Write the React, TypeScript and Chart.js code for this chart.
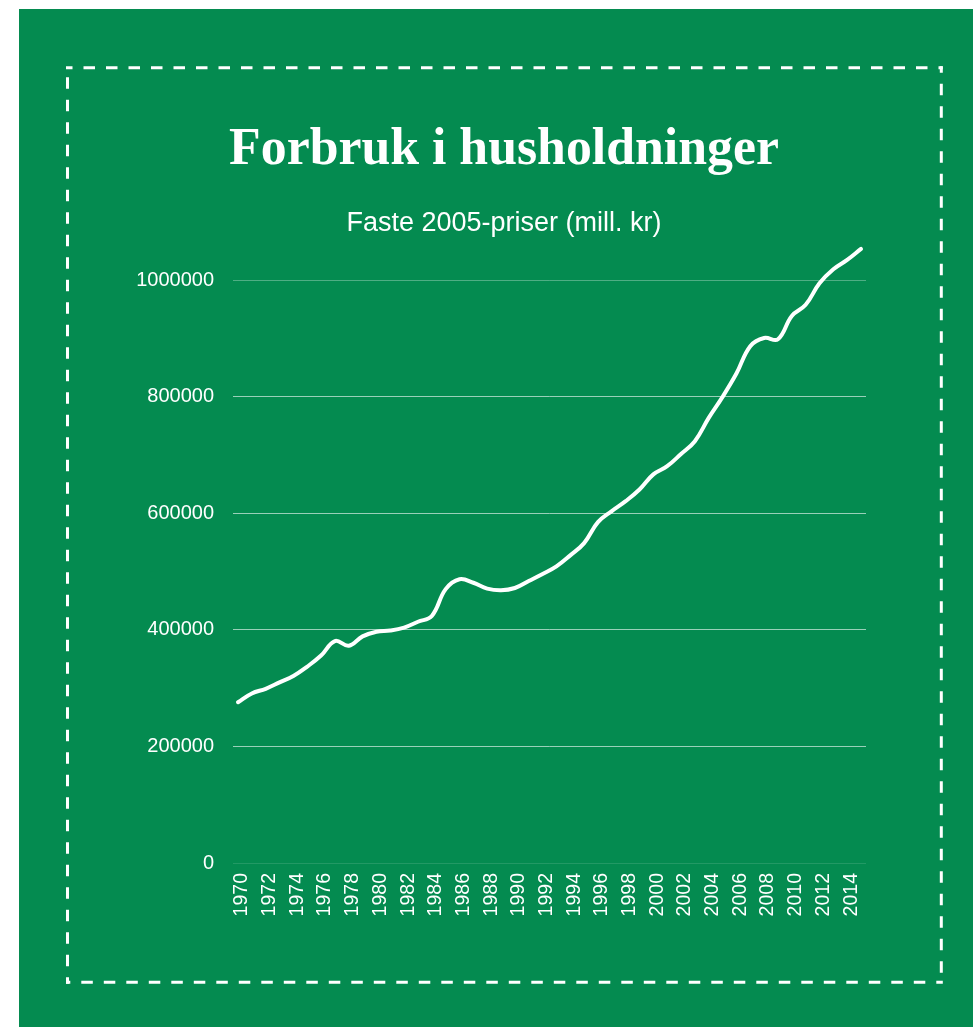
import React, { useEffect, useRef } from "react";
import { Chart, registerables } from "chart.js";

Chart.register(...registerables);

const chartTitle = "Forbruk i husholdninger";
const chartSubtitle = "Faste 2005-priser (mill. kr)";

const years = [
  1970, 1971, 1972, 1973, 1974, 1975, 1976, 1977, 1978, 1979,
  1980, 1981, 1982, 1983, 1984, 1985, 1986, 1987, 1988, 1989,
  1990, 1991, 1992, 1993, 1994, 1995, 1996, 1997, 1998, 1999,
  2000, 2001, 2002, 2003, 2004, 2005, 2006, 2007, 2008, 2009,
  2010, 2011, 2012, 2013, 2014, 2015,
];

const consumption = [
  276000, 291000, 299000, 310000, 321000, 337000, 356000, 381000, 373000, 389000,
  397000, 399000, 404000, 414000, 424000, 470000, 487000, 481000, 471000, 468000,
  472000, 484000, 496000, 509000, 528000, 549000, 585000, 604000, 621000, 641000,
  667000, 681000, 702000, 724000, 764000, 800000, 840000, 887000, 901000, 899000,
  939000, 958000, 995000, 1019000, 1035000, 1054000,
];

const xTickYears = [
  1970, 1972, 1974, 1976, 1978, 1980, 1982, 1984, 1986, 1988, 1990, 1992,
  1994, 1996, 1998, 2000, 2002, 2004, 2006, 2008, 2010, 2012, 2014,
];

const yTickValues = [0, 200000, 400000, 600000, 800000, 1000000];

const GREEN = "#048b50";

const dashedFrame = {
  id: "dashedFrame",
  beforeDraw(chart: any) {
    const ctx = chart.ctx as CanvasRenderingContext2D;
    const l = 48.5, t = 58.8, r = 922.3, b = 973.3;
    const sides = [
      [l, t, r, t],
      [r, t, r, b],
      [r, b, l, b],
      [l, b, l, t],
    ];
    ctx.save();
    ctx.strokeStyle = "#ffffff";
    ctx.lineWidth = 3;
    ctx.lineCap = "square";
    ctx.setLineDash([8.5, 14]);
    ctx.lineDashOffset = 5;
    for (const [x1, y1, x2, y2] of sides) {
      ctx.beginPath();
      ctx.moveTo(x1, y1);
      ctx.lineTo(x2, y2);
      ctx.stroke();
    }
    ctx.restore();
  },
};

export default function App() {
  const canvasRef = useRef<HTMLCanvasElement | null>(null);

  useEffect(() => {
    if (!canvasRef.current) return;
    const chart = new Chart(canvasRef.current, {
      type: "line",
      data: {
        datasets: [
          {
            label: chartSubtitle,
            data: years.map((y, i) => ({ x: y, y: consumption[i] })),
            borderColor: "#ffffff",
            borderWidth: 4,
            pointRadius: 0,
            tension: 0.4,
            fill: false,
            borderCapStyle: "round",
            borderJoinStyle: "round",
            yAxisID: "y",
          },
        ],
      },
      options: {
        animation: false,
        responsive: false,
        maintainAspectRatio: false,
        layout: { padding: { left: 100, right: 84, top: 0, bottom: 0 } },
        plugins: {
          legend: { display: false },
          tooltip: { enabled: false },
          title: {
            display: true,
            text: chartTitle,
            color: "#ffffff",
            font: { family: "'Liberation Serif', 'Times New Roman', serif", size: 51.8, weight: "bold" },
            padding: { top: 111, bottom: 25 },
          },
          subtitle: {
            display: true,
            text: chartSubtitle,
            color: "#ffffff",
            font: { family: "'Liberation Sans', Arial, sans-serif", size: 27 },
            padding: { top: 0, bottom: 0 },
          },
        },
        scales: {
          x: {
            type: "linear",
            min: 1969.64,
            max: 2015.36,
            afterBuildTicks: (scale: any) => {
              scale.ticks = xTickYears.map((v) => ({ value: v }));
            },
            afterFit: (scale: any) => {
              scale.height = 164;
            },
            grid: { display: false },
            border: { display: false },
            ticks: {
              color: "#ffffff",
              font: { family: "'Liberation Sans', Arial, sans-serif", size: 19.5 },
              minRotation: 90,
              maxRotation: 90,
              autoSkip: false,
              padding: 2,
              labelOffset: 4,
              callback: (v: any) => String(v),
            },
          },
          y: {
            type: "linear",
            position: "left",
            min: 0,
            max: 1070000,
            afterBuildTicks: (scale: any) => {
              scale.ticks = yTickValues.map((v) => ({ value: v }));
            },
            afterFit: (scale: any) => {
              scale.width = 114;
            },
            grid: {
              drawTicks: false,
              lineWidth: 1,
              color: (ctx: any) => {
                const v = ctx.tick ? ctx.tick.value : -1;
                if (v === 0) return "rgba(255,255,255,0.12)";
                if (v === 1000000) return "rgba(255,255,255,0.3)";
                return "rgba(255,255,255,0.6)";
              },
            },
            border: { display: false },
            ticks: {
              color: "#ffffff",
              font: { family: "'Liberation Sans', Arial, sans-serif", size: 20 },
              padding: 19,
              callback: (v: any) => String(v),
            },
          },
          yRightSpacer: {
            type: "linear",
            position: "right",
            display: true,
            min: 0,
            max: 1,
            afterFit: (scale: any) => {
              scale.width = 23;
            },
            grid: { display: false },
            border: { display: false },
            ticks: { display: false },
          },
        },
      },
      plugins: [dashedFrame],
    } as any);
    return () => chart.destroy();
  }, []);

  return (
    <div
      style={{
        position: "absolute",
        left: 19,
        top: 9,
        width: 954,
        height: 1018,
        background: GREEN,
        overflow: "hidden",
      }}
    >
      <canvas ref={canvasRef} width={954} height={1018} style={{ display: "block" }} />
    </div>
  );
}
